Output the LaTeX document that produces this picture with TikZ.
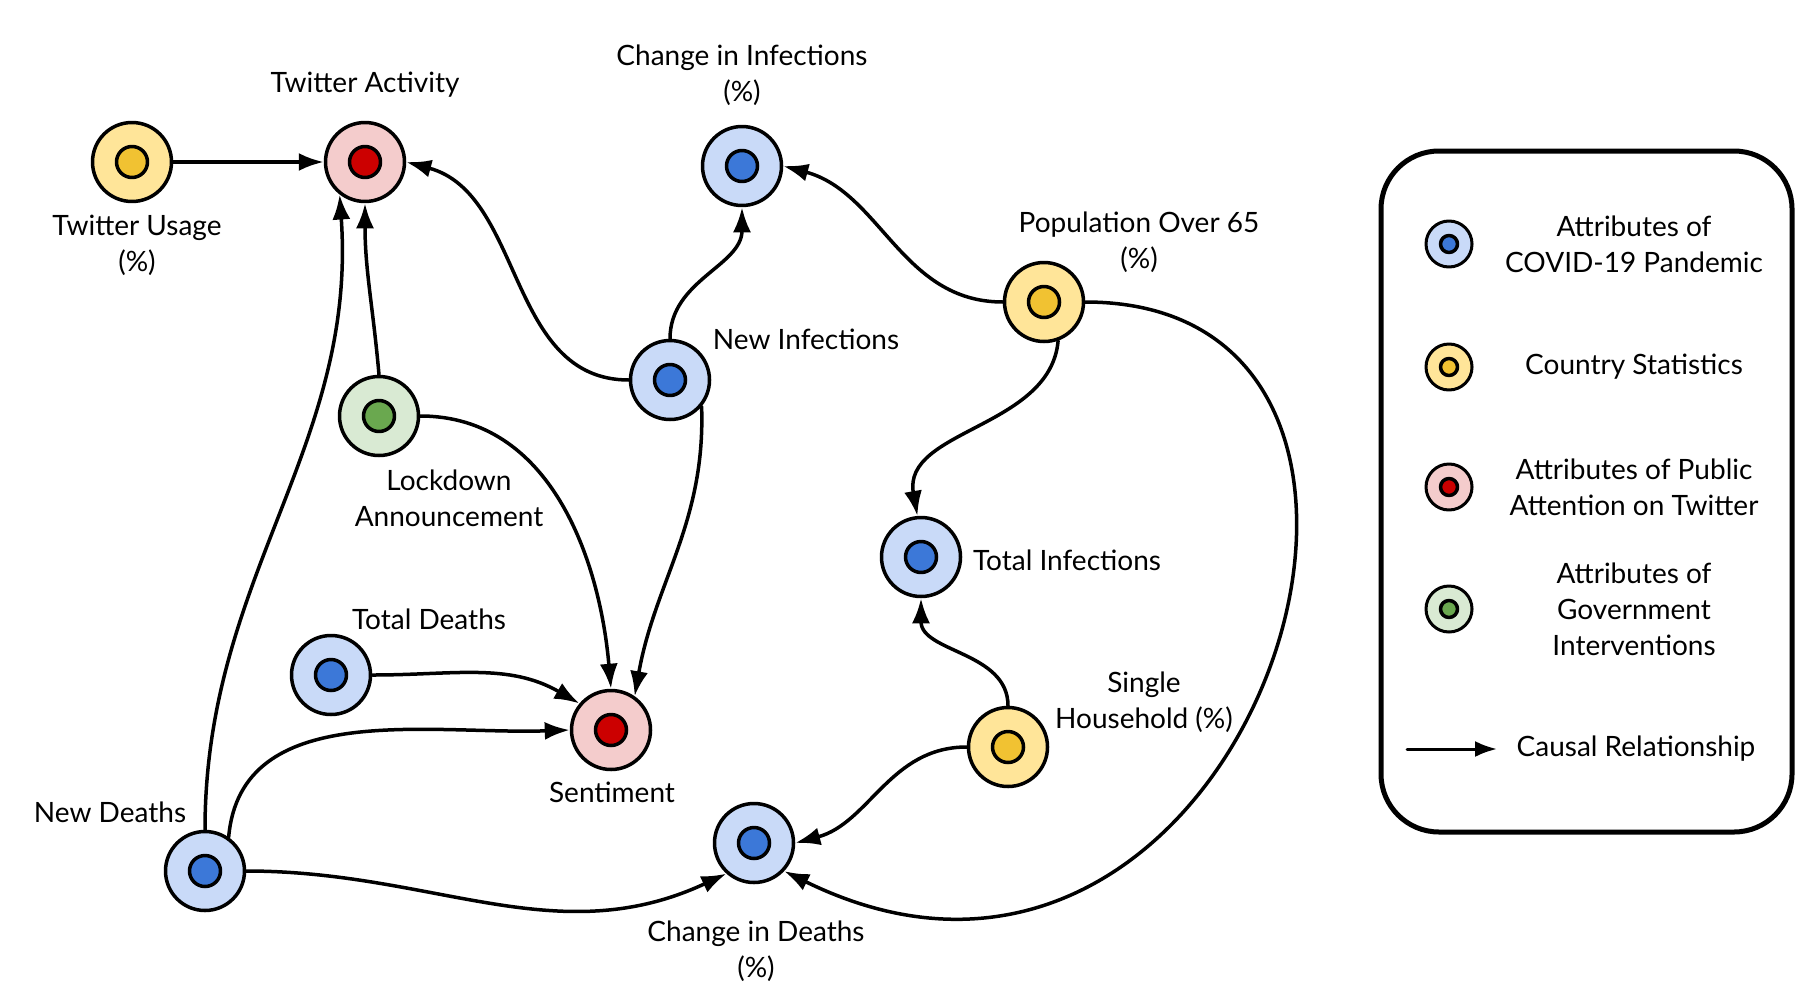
\documentclass[tikz,border=0pt]{standalone}
\usepackage{fontspec}
\setmainfont{Lato}
\usetikzlibrary{arrows.meta}
\definecolor{lblue}{HTML}{C9DAF8}
\definecolor{dblue}{HTML}{3C78D8}
\definecolor{lyellow}{HTML}{FFE599}
\definecolor{dyellow}{HTML}{F1C232}
\definecolor{lred}{HTML}{F4CCCC}
\definecolor{dred}{HTML}{CC0000}
\definecolor{lgreen}{HTML}{D9EAD3}
\definecolor{dgreen}{HTML}{6AA84F}
\tikzset{
  att/.style n args={4}{circle,draw,line width=3.5pt,fill=#1,minimum size=#3,inner sep=0pt,
    path picture={\draw[line width=3.5pt,fill=#2] (path picture bounding box.center) circle (#4);}},
  covid/.style={att={lblue}{dblue}{79pt}{15.5pt}},
  stat/.style={att={lyellow}{dyellow}{79pt}{15.5pt}},
  twit/.style={att={lred}{dred}{79pt}{15.5pt}},
  gov/.style={att={lgreen}{dgreen}{79pt}{15.5pt}},
  lcovid/.style={att={lblue}{dblue}{46pt}{8.5pt},line width=3pt},
  lstat/.style={att={lyellow}{dyellow}{46pt}{8.5pt},line width=3pt},
  ltwit/.style={att={lred}{dred}{46pt}{8.5pt},line width=3pt},
  lgov/.style={att={lgreen}{dgreen}{46pt}{8.5pt},line width=3pt},
  lbl/.style={align=center,inner sep=0pt,font=\fontsize{28}{36}\selectfont},
  cause/.style={line width=3.5pt,-{Latex[length=25pt,width=18pt]}},
}
\begin{document}
\begin{tikzpicture}[x=1pt,y=1pt,line join=round,line cap=round]
\useasboundingbox (0,0) rectangle (1819,-998);
% variables
\node[stat] (tusage) at (132,-162) {};
\node[twit] (tactivity) at (365,-162) {};
\node[covid] (chinf) at (742,-166) {};
\node[stat] (pop65) at (1044,-302) {};
\node[covid] (newinf) at (670,-380) {};
\node[gov] (lockdown) at (379,-416) {};
\node[covid] (totinf) at (921,-557) {};
\node[covid] (totdeath) at (331,-675) {};
\node[twit] (sentiment) at (611,-730) {};
\node[stat] (single) at (1008,-747) {};
\node[covid] (newdeath) at (205,-871) {};
\node[covid] (chdeath) at (754,-843) {};
% labels
\node[lbl] (tactivityl) at (365,-85) {Twitter Activity};
\node[lbl] (tusagel) at (137,-245) {Twitter Usage\\(\%)};
\node[lbl] (chinfl) at (742,-75) {Change in Infections\\(\%)};
\node[lbl] (pop65l) at (1139,-242) {Population Over 65\\(\%)};
\node[lbl] (newinfl) at (806,-339) {New Infections};
\node[lbl] (lockdownl) at (449,-498) {Lockdown\\Announcement};
\node[lbl] (totinfl) at (1067,-560) {Total Infections};
\node[lbl] (totdeathl) at (429,-619) {Total Deaths};
\node[lbl] (sentimentl) at (612,-792) {Sentiment};
\node[lbl] (singlel) at (1144,-702) {Single\\Household (\%)};
\node[lbl] (newdeathl) at (110,-812) {New Deaths};
\node[lbl] (chdeathl) at (756,-951) {Change in Deaths\\(\%)};
% causal links
\draw[cause] (tusage) -- (tactivity);
\draw[cause] (newdeath.north) to[out=90,in=-86] (tactivity.-128);
\draw[cause] (lockdown.north) to[out=95,in=-90] (tactivity.south);
\draw[cause] (newinf.west) to[out=180,in=-15] (tactivity.east);
\draw[cause] (newinf.north) to[out=90,in=-90] (chinf.south);
\draw[cause] (newinf.-40) to[out=-88,in=80] (sentiment.55);
\draw[cause] (lockdown.east) to[out=0,in=95] (sentiment.north);
\draw[cause] (totdeath.east) to[out=0,in=150] (sentiment.140);
\draw[cause] (newdeath.55) to[out=85,in=182] (sentiment.west);
\draw[cause] (newdeath.east) to[out=0,in=-155] (chdeath.-132);
\draw[cause] (pop65.west) to[out=180,in=-15] (chinf.east);
\draw[cause] (pop65.-70) to[out=-95,in=100] (totinf.95);
\draw[cause] (pop65.east) .. controls (1500,-302) and (1250,-1100) .. (chdeath.-43);
\draw[cause] (single.north) to[out=90,in=-90] (totinf.south);
\draw[cause] (single.west) to[out=180,in=15] (chdeath.east);
% legend
\draw[line width=5pt,rounded corners=58pt] (1381,-151) rectangle (1792,-832);
\node[lcovid] (lgcovid) at (1449,-244) {};
\node[lstat] (lgstat) at (1449,-367) {};
\node[ltwit] (lgtwit) at (1449,-487) {};
\node[lgov] (lggov) at (1449,-609) {};
\node[lbl] (lgcovidl) at (1634,-244) {Attributes of\\COVID-19 Pandemic};
\node[lbl] (lgstatl) at (1634,-367) {Country Statistics};
\node[lbl] (lgtwitl) at (1634,-487) {Attributes of Public\\Attention on Twitter};
\node[lbl] (lggovl) at (1634,-609) {Attributes of\\Government\\Interventions};
\coordinate (lga) at (1407,-749);
\coordinate (lgb) at (1497,-749);
\draw[line width=3pt,-{Latex[length=22pt,width=16pt]}] (lga) -- (lgb);
\node[lbl] (lgarrowl) at (1636,-749) {Causal Relationship};
\end{tikzpicture}
\end{document}
